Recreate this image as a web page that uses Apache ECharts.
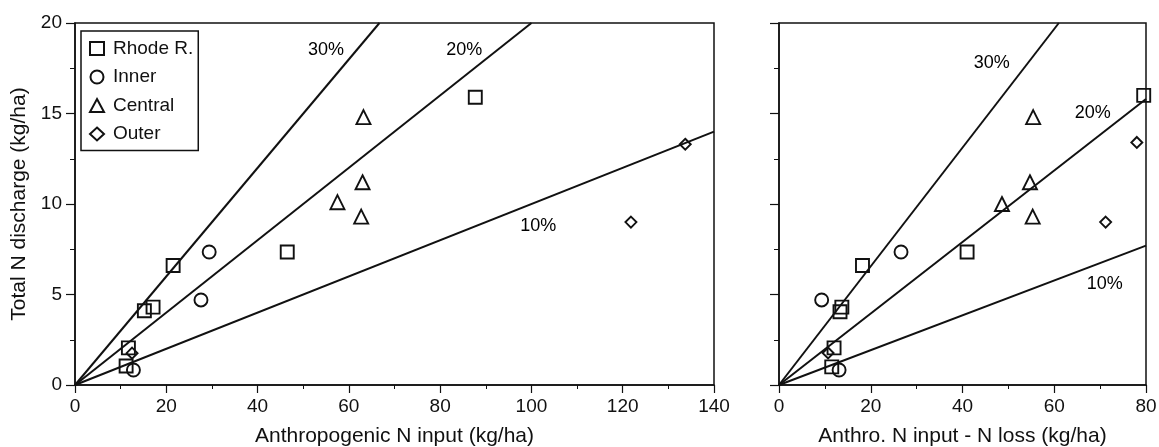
<!DOCTYPE html>
<html>
<head>
<meta charset="utf-8">
<script src="https://cdn.jsdelivr.net/npm/echarts@6/dist/echarts.min.js"></script>
<style>
  html, body { margin: 0; padding: 0; background: #fff; }
  #container { width: 1159px; height: 447px; }
</style>
</head>
<body>
<div id="container"></div>
<script>
var dom = document.getElementById("container");
var myChart = echarts.init(dom);

// left panel: anthropogenic N input vs total N discharge
var rhodeIn = [[87.7, 15.9], [21.5, 6.6], [46.5, 7.35], [17.1, 4.3], [15.2, 4.1], [11.7, 2.05], [11.2, 1.05]];
var innerIn = [[29.4, 7.35], [27.6, 4.7], [12.8, 0.83]];
var centralIn = [[63.2, 14.8], [63, 11.2], [57.5, 10.1], [62.7, 9.3]];
var outerIn = [[133.7, 13.3], [121.8, 9.0], [12.5, 1.76]];

// right panel: input minus loss
var rhodeNet = [[79.5, 16], [18.2, 6.6], [41, 7.35], [13.7, 4.3], [13.3, 4.05], [12, 2.05], [11.5, 1.0]];
var innerNet = [[26.6, 7.35], [9.3, 4.7], [13.1, 0.83]];
var centralNet = [[55.4, 14.8], [54.7, 11.2], [48.6, 10.0], [55.3, 9.3]];
var outerNet = [[78, 13.4], [71.2, 9.0], [10.7, 1.77]];

// reference lines (% of input discharged)
var linesIn = [
  [[0, 0], [66.7, 20]],
  [[0, 0], [100, 20]],
  [[0, 0], [140, 14]]
];
var linesNet = [
  [[0, 0], [61, 20]],
  [[0, 0], [80, 15.8]],
  [[0, 0], [80, 7.7]]
];
var pctLabelsIn = [[55, 18.5, "30%"], [85.3, 18.5, "20%"], [101.5, 8.8, "10%"]];
var pctLabelsNet = [[46.4, 17.8, "30%"], [68.4, 15.0, "20%"], [71, 5.6, "10%"]];

var seriesNames = ["Rhode R.", "Inner", "Central", "Outer"];
var symbols = ["rect", "circle", "triangle", "diamond"];
var symbolSizes = [13, 13, 14, 11];

var FONT = "Liberation Sans";
var ink = "#111";

function xAxisFor(idx, max, name) {
  return {
    type: "value", gridIndex: idx, min: 0, max: max, interval: 20,
    name: name, nameLocation: "middle", nameGap: 41,
    nameTextStyle: { fontFamily: FONT, fontSize: 21, color: ink },
    axisLine: { show: true, lineStyle: { color: ink, width: 1.5 } },
    axisTick: { show: true, length: 8, lineStyle: { color: ink, width: 1.2 } },
    minorTick: { show: true, splitNumber: 2, length: 4, lineStyle: { color: ink, width: 1 } },
    axisLabel: { fontFamily: FONT, fontSize: 19, color: ink, margin: 12 },
    splitLine: { show: false }
  };
}
function yAxisFor(idx, showLabels) {
  return {
    type: "value", gridIndex: idx, min: 0, max: 20, interval: 5,
    name: showLabels ? "Total N discharge (kg/ha)" : "",
    nameLocation: "middle", nameGap: 45,
    nameTextStyle: { fontFamily: FONT, fontSize: 21, color: ink },
    axisLine: { show: true, lineStyle: { color: ink, width: 1.5 } },
    axisTick: { show: true, length: 9, lineStyle: { color: ink, width: 1.2 } },
    minorTick: { show: true, splitNumber: 2, length: 5, lineStyle: { color: ink, width: 1 } },
    axisLabel: { show: showLabels, fontFamily: FONT, fontSize: 19, color: ink, margin: 13 },
    splitLine: { show: false }
  };
}

var series = [];
[[rhodeIn, innerIn, centralIn, outerIn], [rhodeNet, innerNet, centralNet, outerNet]].forEach(function (sets, g) {
  sets.forEach(function (d, i) {
    series.push({
      name: seriesNames[i], type: "scatter", xAxisIndex: g, yAxisIndex: g,
      symbol: symbols[i], symbolSize: symbolSizes[i],
      itemStyle: { color: "rgba(255,255,255,0)", borderColor: ink, borderWidth: 1.9, opacity: 1 },
      data: d, z: 5
    });
  });
});
[linesIn, linesNet].forEach(function (set, g) {
  set.forEach(function (d) {
    series.push({
      type: "line", xAxisIndex: g, yAxisIndex: g, data: d,
      symbol: "none", silent: true,
      lineStyle: { color: ink, width: 2 }, z: 3
    });
  });
});
[pctLabelsIn, pctLabelsNet].forEach(function (set, g) {
  series.push({
    type: "scatter", xAxisIndex: g, yAxisIndex: g, data: set,
    symbolSize: 0, silent: true,
    itemStyle: { opacity: 1 },
    label: {
      show: true, position: "inside", color: "#000", opacity: 1,
      fontFamily: FONT, fontSize: 18,
      formatter: function (p) { return p.value[2]; }
    }
  });
});

option = {
  backgroundColor: "#fff",
  animation: false,
  grid: [
    { left: 75, right: 445, top: 23, bottom: 62, outerBoundsMode: "none", containLabel: false,
      show: true, borderColor: ink, borderWidth: 1.5, backgroundColor: "transparent" },
    { left: 779, right: 13, top: 23, bottom: 62, outerBoundsMode: "none", containLabel: false,
      show: true, borderColor: ink, borderWidth: 1.5, backgroundColor: "transparent" }
  ],
  legend: {
    data: seriesNames,
    orient: "vertical", left: 81, top: 31,
    backgroundColor: "#fff",
    borderColor: ink, borderWidth: 1.5, borderRadius: 0,
    padding: [8, 5, 7, 8],
    itemWidth: 14, itemHeight: 13, itemGap: 9.5,
    textStyle: { fontFamily: FONT, fontSize: 19, color: ink, padding: [0, 0, 0, 4] }
  },
  xAxis: [
    xAxisFor(0, 140, "Anthropogenic N input (kg/ha)"),
    xAxisFor(1, 80, "Anthro. N input - N loss (kg/ha)")
  ],
  yAxis: [yAxisFor(0, true), yAxisFor(1, false)],
  series: series
};
if (option && typeof option === "object") {
  myChart.setOption(option, true);
}
</script>
</body>
</html>
